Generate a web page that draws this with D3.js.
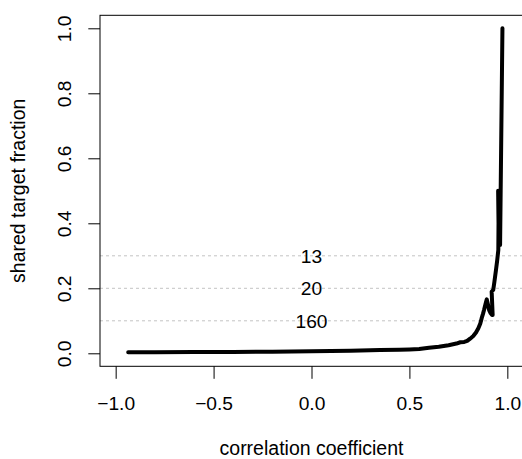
<!DOCTYPE html>
<html>
<head>
<meta charset="utf-8">
<script src="https://cdn.jsdelivr.net/npm/d3@7"></script>
<style>
  html, body { margin: 0; padding: 0; background: #fff; }
  svg { display: block; }
  text { font-family: "Liberation Sans", Arial, sans-serif; fill: #000; }
</style>
</head>
<body>
<svg id="chart" width="522" height="459"></svg>
<script>
// ---- data ----
const corr = [-0.936, -0.8, -0.6, -0.4, -0.2, 0.0, 0.2, 0.35, 0.45, 0.5, 0.55, 0.6, 0.65, 0.7, 0.74, 0.76, 0.78, 0.795, 0.81, 0.826, 0.84, 0.852, 0.862, 0.869, 0.876, 0.881, 0.888, 0.895, 0.901, 0.907, 0.915, 0.922, 0.925, 0.920, 0.928, 0.934, 0.942, 0.948, 0.954, 0.955, 0.953, 0.957, 0.960, 0.963, 0.975];
const frac = [0.003, 0.003, 0.004, 0.004, 0.005, 0.006, 0.008, 0.010, 0.011, 0.012, 0.013, 0.017, 0.020, 0.025, 0.030, 0.034, 0.035, 0.038, 0.045, 0.053, 0.064, 0.077, 0.092, 0.108, 0.122, 0.133, 0.150, 0.166, 0.150, 0.133, 0.123, 0.118, 0.118, 0.190, 0.195, 0.220, 0.256, 0.285, 0.318, 0.400, 0.500, 0.480, 0.400, 0.333, 1.0];
const refLevels = [0.3, 0.2, 0.1];
const refLabels = ["13", "20", "160"];
const xTicks = [-1, -0.5, 0, 0.5, 1];
const yTicks = [0, 0.2, 0.4, 0.6, 0.8, 1.0];
const xTitle = "correlation coefficient";
const yTitle = "shared target fraction";

// ---- layout ----
const svg = d3.select("#chart");
const pL = 100, pR = 523, pT = 15.3, pB = 366.3;
const x = d3.scaleLinear().domain([-1.08, 1.08]).range([pL, pR]);
const y = d3.scaleLinear().domain([-0.04, 1.04]).range([pB, pT]);
const fs = "19.2px";
const fsT = "19.5px";
const fmt = d3.format(".1f");

// reference lines
svg.append("g").selectAll("line").data(refLevels).join("line")
  .attr("x1", pL).attr("x2", pR)
  .attr("y1", d => y(d)).attr("y2", d => y(d))
  .attr("stroke", "#c4c4c4").attr("stroke-width", 1)
  .attr("stroke-dasharray", "3,3");

// curve
const pts = corr.map((c, i) => [c, frac[i]]);
svg.append("path")
  .datum(pts)
  .attr("d", d3.line().x(d => x(d[0])).y(d => y(d[1])))
  .attr("fill", "none").attr("stroke", "#000")
  .attr("stroke-width", 4)
  .attr("stroke-linejoin", "round").attr("stroke-linecap", "round");

// labels on reference lines
svg.append("g").selectAll("text").data(refLevels).join("text")
  .attr("x", x(0)).attr("y", d => y(d))
  .attr("dy", "0.36em")
  .attr("text-anchor", "middle")
  .style("font-size", fs)
  .text((d, i) => refLabels[i]);

// box
svg.append("rect")
  .attr("x", pL).attr("y", pT)
  .attr("width", pR - pL).attr("height", pB - pT)
  .attr("fill", "none").attr("stroke", "#000").attr("stroke-width", 1);

// x axis
const gx = svg.append("g").attr("transform", `translate(0,${pB})`)
  .call(d3.axisBottom(x).tickValues(xTicks).tickSize(12.5).tickFormat(d => fmt(d)));
gx.select(".domain").remove();
gx.selectAll("line").attr("stroke", "#000");
gx.selectAll("text")
  .attr("y", 43.7).attr("dy", 0)
  .style("font-size", fs).style("font-family", "Liberation Sans, Arial, sans-serif")
  .attr("fill", "#000");

// y axis
const gy = svg.append("g").attr("transform", `translate(${pL},0)`)
  .call(d3.axisLeft(y).tickValues(yTicks).tickSize(11.7).tickFormat(d => fmt(d)));
gy.select(".domain").remove();
gy.selectAll("line").attr("stroke", "#000");
gy.selectAll("text")
  .attr("x", null).attr("dy", 0)
  .attr("transform", "translate(-29.3,0) rotate(-90)")
  .attr("text-anchor", "middle")
  .style("font-size", fs).style("font-family", "Liberation Sans, Arial, sans-serif")
  .attr("fill", "#000");

// axis titles
svg.append("text")
  .attr("x", (pL + pR) / 2).attr("y", 454.5)
  .attr("text-anchor", "middle")
  .style("font-size", fsT)
  .text(xTitle);
svg.append("text")
  .attr("transform", `translate(25,${(pT + pB) / 2}) rotate(-90)`)
  .attr("text-anchor", "middle")
  .style("font-size", fsT)
  .text(yTitle);
</script>
</body>
</html>
